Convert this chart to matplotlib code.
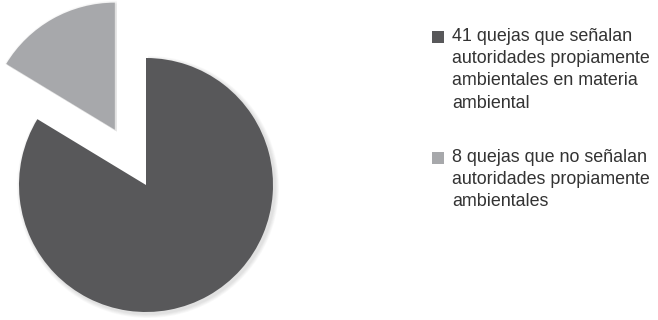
import matplotlib
matplotlib.use("Agg")
import matplotlib.pyplot as plt
from matplotlib.patches import Rectangle

values = [41, 8]
labels = ["41 quejas que señalan\nautoridades propiamente\nambientales en materia\nambiental",
          "8 quejas que no señalan\nautoridades propiamente\nambientales"]
colors = ["#58585a", "#a7a8ab"]
explode_frac = [0, 0.5]

W, H = 658, 320
fig = plt.figure(figsize=(W / 100, H / 100), dpi=100)
ax = fig.add_axes([0, 0, 1, 1])

cx, cy, r = 146, H - 185, 127
expl = [e * r for e in explode_frac]

# soft shadow
for k in range(1, 6):
    wedges, _ = ax.pie(values, colors=["#000000"] * 2, explode=expl, startangle=90,
                       counterclock=False, center=(cx + 2, cy - 2), radius=r + k * 0.8,
                       wedgeprops=dict(linewidth=0, alpha=0.025))

ax.pie(values, colors=colors, explode=expl, startangle=90,
       counterclock=False, center=(cx, cy), radius=r, wedgeprops=dict(linewidth=0))
ax.set_xlim(0, W)
ax.set_ylim(0, H)
ax.set_aspect("equal")
ax.axis("off")

text_color = "#333333"
label_y = [37, 158]
for lab, col, y in zip(labels, colors, label_y):
    fig.patches.append(Rectangle((432 / W, 1 - (y + 6) / H), 12 / W, 12 / H,
                                 transform=fig.transFigure, color=col, lw=0))
    fig.text(452 / W, 1 - (y - 9) / H, lab, ha="left", va="top",
             fontsize=12.9, family="Liberation Sans", color=text_color, linespacing=1.4)

fig.savefig("out.png", dpi=100)
